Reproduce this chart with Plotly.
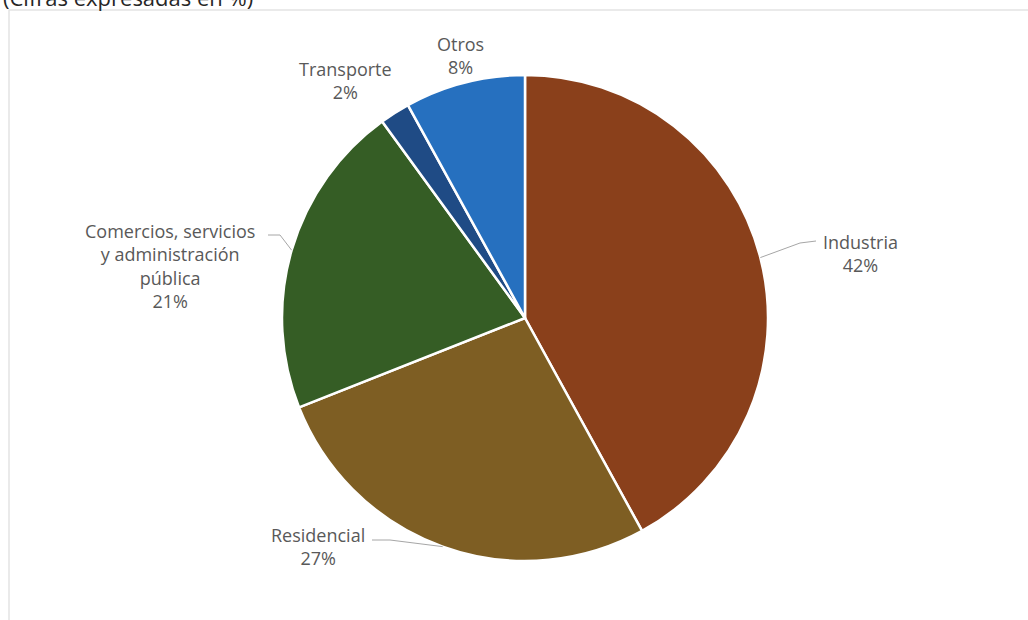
import math
import plotly.graph_objects as go

# Share of consumption by sector (%), clockwise from 12 o'clock
sectors = ["Industria", "Residencial", "Comercios, servicios<br>y administración<br>pública", "Transporte", "Otros"]
shares = [42, 27, 21, 2, 8]
colors = ["#8a401b", "#7e5e23", "#355d25", "#1f4b85", "#2670bf"]

W, H = 1028, 620
CX, CY, R = 525, 318, 243  # pie centre and radius in pixels


def px(x):
    return x / W


def py(y):
    return 1 - y / H


fig = go.Figure(
    go.Pie(
        labels=sectors,
        values=shares,
        marker=dict(colors=colors, line=dict(color="white", width=2.5)),
        sort=False,
        direction="clockwise",
        rotation=0,
        textinfo="none",
        hoverinfo="label+percent",
        domain=dict(x=[px(CX - R), px(CX + R)], y=[py(CY + R), py(CY - R)]),
        showlegend=False,
    )
)

# label centres (pixels) for each sector
label_pos = [(860, 253), (318, 546), (170, 266), (345, 80), (460, 55)]

total = sum(shares)
annotations = []
shapes = []
cum = 0
for name, val, (lx, ly) in zip(sectors, shares, label_pos):
    mid = (cum + val / 2) / total * 2 * math.pi
    cum += val
    annotations.append(
        dict(
            x=px(lx), y=py(ly), xref="paper", yref="paper",
            xanchor="center", yanchor="middle",
            text=f"{name}<br>{round(val / total * 100)}%",
            showarrow=False, align="center",
            font=dict(family="Open Sans", size=18, color="#595959"),
        )
    )
    ex = CX + R * math.sin(mid)
    ey = CY - R * math.cos(mid)
    if name == "Industria":
        path = [(ex, ey), (800, 243), (816, 241)]
    elif name == "Residencial":
        path = [(ex, ey), (390, 540), (372, 540)]
    elif name.startswith("Comercios"):
        path = [(ex, ey), (280, 235), (268, 235)]
    else:
        path = []
    if path:
        d = "M " + " L ".join(f"{px(a)},{py(b)}" for a, b in path)
        shapes.append(
            dict(type="path", xref="paper", yref="paper", path=d,
                 line=dict(color="#a6a6a6", width=1))
        )

# chart frame
shapes.append(
    dict(type="rect", xref="paper", yref="paper",
         x0=px(9), x1=px(1040), y0=py(650), y1=py(10),
         line=dict(color="#e3e3e3", width=1.5), layer="below")
)

# subtitle partly above the frame
annotations.append(
    dict(x=px(1), y=py(-3), xref="paper", yref="paper", xanchor="left", yanchor="middle",
         text="(Cifras expresadas en %)", showarrow=False,
         font=dict(family="Open Sans", size=22, color="#262626"))
)

fig.update_layout(
    width=W, height=H,
    margin=dict(l=0, r=0, t=0, b=0),
    paper_bgcolor="white",
    plot_bgcolor="white",
    annotations=annotations,
    shapes=shapes,
)

fig.write_html("out.html")
